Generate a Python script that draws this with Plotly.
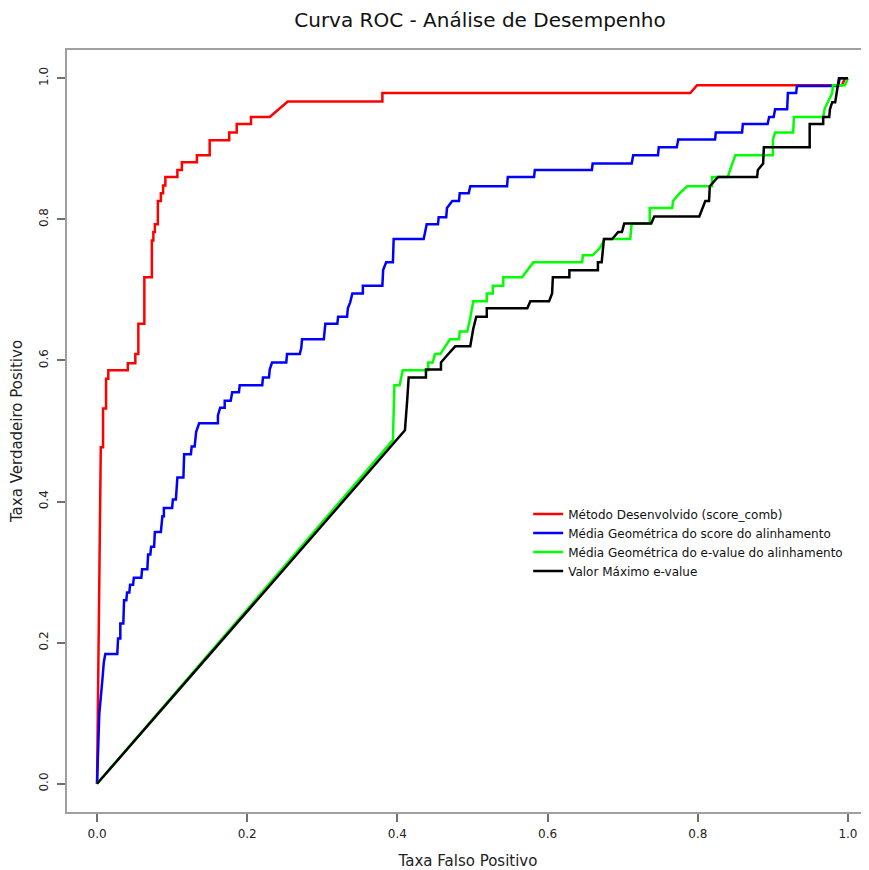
import plotly.graph_objects as go

# ---- data ----
series_names = [
    "Método Desenvolvido (score_comb)",
    "Média Geométrica do score do alinhamento",
    "Média Geométrica do e-value do alinhamento",
    "Valor Máximo e-value",
]

red_fpr = [0, 0.001, 0.003, 0.004, 0.005, 0.008, 0.008, 0.012, 0.012, 0.015, 0.015, 0.041, 0.041, 0.051, 0.051,
           0.055, 0.055, 0.063, 0.063, 0.073, 0.073, 0.075, 0.075, 0.077, 0.077, 0.081, 0.081, 0.085, 0.085,
           0.088, 0.088, 0.091, 0.091, 0.107, 0.107, 0.113, 0.113, 0.133, 0.133, 0.150, 0.150, 0.176, 0.176,
           0.186, 0.186, 0.205, 0.205, 0.230, 0.254, 0.380, 0.380, 0.790, 0.799, 0.992, 0.996, 1.0]
red_tpr = [0, 0.118, 0.305, 0.369, 0.477, 0.477, 0.532, 0.532, 0.574, 0.574, 0.586, 0.586, 0.596, 0.596, 0.609,
           0.609, 0.652, 0.652, 0.718, 0.718, 0.770, 0.770, 0.782, 0.782, 0.793, 0.793, 0.826, 0.826, 0.837,
           0.837, 0.848, 0.848, 0.860, 0.860, 0.870, 0.870, 0.881, 0.881, 0.891, 0.891, 0.912, 0.912, 0.923,
           0.923, 0.935, 0.935, 0.945, 0.945, 0.967, 0.967, 0.979, 0.979, 0.990, 0.990, 1.0, 1.0]

blue_fpr = [0, 0.003, 0.007, 0.009, 0.011, 0.027, 0.028, 0.031, 0.031, 0.035, 0.036, 0.039, 0.040, 0.043, 0.044,
            0.048, 0.049, 0.059, 0.060, 0.067, 0.068, 0.071, 0.072, 0.076, 0.077, 0.085, 0.087, 0.089, 0.089,
            0.100, 0.101, 0.105, 0.107, 0.115, 0.116, 0.125, 0.126, 0.130, 0.132, 0.136, 0.161, 0.161, 0.164,
            0.170, 0.170, 0.178, 0.180, 0.189, 0.190, 0.220, 0.221, 0.229, 0.230, 0.233, 0.252, 0.253, 0.270,
            0.272, 0.273, 0.302, 0.304, 0.320, 0.321, 0.333, 0.334, 0.337, 0.340, 0.354, 0.354, 0.380, 0.381,
            0.385, 0.394, 0.395, 0.435, 0.437, 0.439, 0.454, 0.455, 0.465, 0.466, 0.473, 0.482, 0.483, 0.495,
            0.497, 0.546, 0.547, 0.582, 0.583, 0.659, 0.660, 0.712, 0.714, 0.747, 0.748, 0.772, 0.774, 0.823,
            0.824, 0.859, 0.860, 0.893, 0.895, 0.901, 0.903, 0.919, 0.920, 0.931, 0.932, 0.987, 0.989, 1.0]
blue_tpr = [0, 0.099, 0.146, 0.172, 0.184, 0.184, 0.206, 0.206, 0.227, 0.227, 0.260, 0.260, 0.271, 0.271, 0.282,
            0.282, 0.292, 0.292, 0.304, 0.304, 0.325, 0.325, 0.336, 0.336, 0.357, 0.357, 0.379, 0.379, 0.391,
            0.391, 0.403, 0.403, 0.434, 0.434, 0.467, 0.467, 0.478, 0.478, 0.499, 0.511, 0.511, 0.522, 0.533,
            0.533, 0.543, 0.543, 0.555, 0.555, 0.565, 0.565, 0.576, 0.576, 0.587, 0.597, 0.597, 0.609, 0.609,
            0.618, 0.630, 0.630, 0.652, 0.652, 0.662, 0.662, 0.674, 0.682, 0.695, 0.695, 0.706, 0.706, 0.728,
            0.739, 0.739, 0.772, 0.772, 0.782, 0.793, 0.793, 0.803, 0.803, 0.816, 0.826, 0.826, 0.837, 0.837,
            0.847, 0.847, 0.860, 0.860, 0.870, 0.870, 0.879, 0.879, 0.891, 0.891, 0.902, 0.902, 0.913, 0.913,
            0.923, 0.923, 0.935, 0.935, 0.945, 0.945, 0.956, 0.956, 0.979, 0.979, 0.989, 0.989, 1.0, 1.0]

green_fpr = [0, 0.394, 0.396, 0.403, 0.407, 0.441, 0.441, 0.447, 0.450, 0.457, 0.470, 0.482, 0.483, 0.493, 0.497,
             0.501, 0.519, 0.519, 0.527, 0.527, 0.541, 0.541, 0.566, 0.573, 0.581, 0.646, 0.647, 0.660, 0.670,
             0.676, 0.710, 0.712, 0.736, 0.736, 0.766, 0.767, 0.776, 0.786, 0.819, 0.819, 0.840, 0.843, 0.850,
             0.900, 0.900, 0.903, 0.927, 0.928, 0.967, 0.969, 0.973, 0.979, 0.980, 0.996, 1.0]
green_tpr = [0, 0.487, 0.565, 0.565, 0.586, 0.586, 0.597, 0.597, 0.609, 0.609, 0.630, 0.630, 0.641, 0.641, 0.660,
             0.684, 0.684, 0.695, 0.695, 0.706, 0.706, 0.718, 0.718, 0.728, 0.739, 0.739, 0.749, 0.749, 0.760,
             0.772, 0.772, 0.794, 0.794, 0.816, 0.816, 0.826, 0.837, 0.847, 0.847, 0.860, 0.860, 0.870, 0.891,
             0.891, 0.913, 0.923, 0.923, 0.945, 0.945, 0.957, 0.966, 0.979, 0.990, 0.990, 1.0]

black_fpr = [0, 0.410, 0.413, 0.415, 0.438, 0.438, 0.458, 0.458, 0.466, 0.477, 0.497, 0.501, 0.505, 0.519, 0.519,
             0.573, 0.577, 0.602, 0.606, 0.607, 0.629, 0.629, 0.667, 0.667, 0.672, 0.675, 0.686, 0.694, 0.699,
             0.702, 0.738, 0.742, 0.802, 0.806, 0.810, 0.815, 0.816, 0.827, 0.879, 0.880, 0.887, 0.888, 0.949,
             0.949, 0.967, 0.967, 0.975, 0.976, 0.979, 0.983, 0.985, 0.987, 0.988, 1.0]
black_tpr = [0, 0.501, 0.543, 0.576, 0.576, 0.587, 0.587, 0.597, 0.607, 0.620, 0.620, 0.645, 0.662, 0.662, 0.674,
             0.674, 0.684, 0.684, 0.695, 0.718, 0.718, 0.728, 0.728, 0.739, 0.739, 0.772, 0.772, 0.782, 0.782,
             0.794, 0.794, 0.804, 0.804, 0.816, 0.826, 0.826, 0.847, 0.860, 0.860, 0.870, 0.879, 0.902, 0.902,
             0.935, 0.935, 0.945, 0.945, 0.956, 0.966, 0.966, 0.979, 0.989, 1.0, 1.0]

tick_vals = [0.0, 0.2, 0.4, 0.6, 0.8, 1.0]
tick_text = ["0.0", "0.2", "0.4", "0.6", "0.8", "1.0"]

# ---- figure ----
# The page body has an 8px margin, so the figure is 8px smaller than the window.
FONT = "DejaVu Sans"
W, H = 861, 862
colors = ["#ff0000", "#0000ff", "#00ff00", "#000000"]
xs = [red_fpr, blue_fpr, green_fpr, black_fpr]
ys = [red_tpr, blue_tpr, green_tpr, black_tpr]

fig = go.Figure()
for name, x, y, c in zip(series_names, xs, ys, colors):
    fig.add_trace(go.Scatter(x=x, y=y, mode="lines", name=name,
                             line=dict(color=c, width=2.5)))

axis_common = dict(
    showgrid=False, zeroline=False,
    showline=True, linecolor="#a0a0a0", linewidth=2,
    ticks="outside", ticklen=8, tickwidth=1.5, tickcolor="#707070",
    tickvals=tick_vals, ticktext=tick_text,
    tickfont=dict(family=FONT, size=12, color="#222222"),
)

fig.update_layout(
    width=W, height=H,
    paper_bgcolor="white", plot_bgcolor="white",
    margin=dict(l=59, r=0, t=42, b=58),
    title=dict(text="Curva ROC - Análise de Desempenho",
               x=472 / W, xanchor="center", y=1 - 12 / H, yanchor="middle",
               font=dict(family=FONT, size=20, color="#111111")),
    xaxis=dict(range=[-0.04, 1.028], mirror=True,
               title=dict(text="Taxa Falso Positivo", standoff=16,
                          font=dict(family=FONT, size=15, color="#222222")),
               ticklabelstandoff=2,
               **axis_common),
    yaxis=dict(range=[-0.04, 1.04], mirror=False, tickangle=-90,
               title=dict(text="Taxa Verdadeiro Positivo", standoff=15,
                          font=dict(family=FONT, size=15, color="#222222")),
               ticklabelstandoff=4,
               **axis_common),
    legend=dict(x=0.575, y=0.41, xanchor="left", yanchor="top",
                bgcolor="white", borderwidth=0,
                font=dict(family=FONT, size=12, color="#111111"),
                tracegroupgap=0),
    showlegend=True,
)

fig.write_html("out.html")
